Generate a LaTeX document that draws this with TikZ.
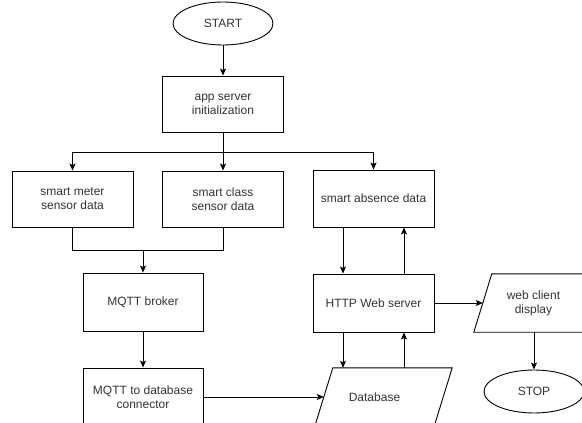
\documentclass[tikz,border=0pt]{standalone}
\usepackage{fontspec}
\setmainfont{Liberation Sans}
\usetikzlibrary{shapes.geometric,arrows.meta}
\definecolor{txt}{HTML}{333333}
\tikzset{
  x=1pt,y=-1pt,
  every node/.style={font=\fontsize{12}{14}\selectfont, text=txt, align=center},
  box/.style={draw=black, line width=0.9pt, rectangle, minimum width=121pt, minimum height=57pt, inner sep=0pt},
  term/.style={draw=black, line width=0.9pt, ellipse, minimum width=100pt, minimum height=43pt, inner sep=0pt},
  pbox/.style={rectangle, minimum width=119pt, minimum height=58pt, inner sep=0pt},
  para/.style={draw=black, line width=0.9pt},
  conn/.style={draw=black, line width=0.9pt},
  arr/.style={conn, -{Stealth[length=7pt,width=6pt,inset=1.5pt]}}
}
\begin{document}
\begin{tikzpicture}
\path[use as bounding box] (0,0) rectangle (582,423);
\begin{scope}
\clip (0,0) rectangle (582,423);
\node[term] (start) at (223,23.5) {START};
\node[box, minimum height=56pt] (app) at (223,104) {app server\\initialization};
\node[box, minimum height=56pt] (meter) at (72.5,199) {smart meter\\sensor data};
\node[box, minimum height=56pt] (class) at (223,199) {smart class\\sensor data};
\node[box] (absence) at (373.5,198.5) {smart absence data};
\node[box, minimum width=120pt, minimum height=58pt] (mqtt) at (143,302) {MQTT broker};
\node[box, minimum width=120pt, minimum height=58pt] (dbconn) at (143,397) {MQTT to database\\connector};
\node[box, minimum height=58pt] (http) at (373.5,303) {HTTP Web server};
\node[pbox] (web) at (533.5,303) {web client\\display};
\node[pbox] (db) at (374.5,397) {Database};
\node[term] (stop) at (534,391.5) {STOP};
\draw[para] ([xshift=18pt]web.north west) -- ([xshift=18pt]web.north east) -- (web.south east) -- (web.south west) -- cycle;
\draw[para] ([xshift=18pt]db.north west) -- ([xshift=18pt]db.north east) -- (db.south east) -- (db.south west) -- cycle;
\coordinate (split) at (223,152);
\coordinate (merge) at (143,250);
\draw[arr] (start) -- (app);
\draw[arr] (app) -- (class);
\draw[arr] (split) -| (meter);
\draw[arr] (split) -| (absence);
\draw[conn] (meter) |- (merge);
\draw[conn] (class) |- (merge);
\draw[arr] (merge) -- (mqtt);
\draw[arr] (mqtt) -- (dbconn);
\draw[arr] (dbconn.east) -- ([xshift=9pt]db.west);
\draw[arr] ([xshift=-30.5pt]absence.south) -- ([xshift=-30.5pt]http.north);
\draw[arr] ([xshift=30.5pt]http.north) -- ([xshift=30.5pt]absence.south);
\draw[arr] ([xshift=-30.5pt]http.south) -- ([xshift=-31.5pt]db.north);
\draw[arr] ([xshift=30.5pt]db.north -| http.south) -- ([xshift=30.5pt]http.south);
\draw[arr] (http.east) -- ([xshift=9pt]web.west);
\draw[arr] (web.south -| stop.north) -- (stop.north);
\end{scope}
\end{tikzpicture}
\end{document}
